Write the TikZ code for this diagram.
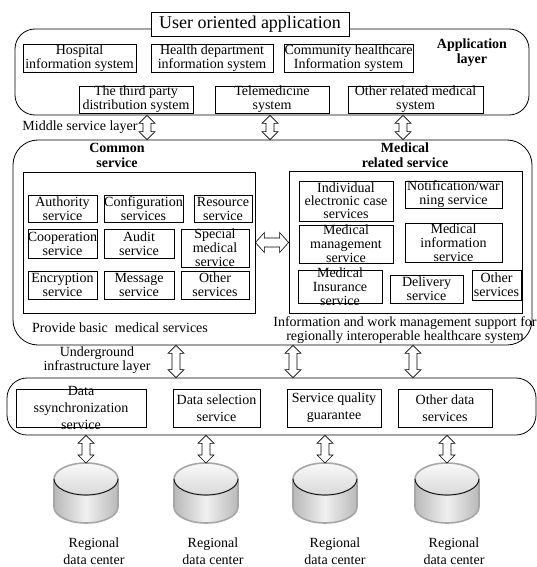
\documentclass[tikz,border=0pt]{standalone}
\usepackage{fontspec}
\setmainfont{Liberation Serif}
\usetikzlibrary{calc}

\begin{document}
\begin{tikzpicture}[x=1pt, y=-1pt,
 every node/.style={font=\fontsize{14}{14}\selectfont},
 layer/.style={draw, line width=0.8pt, rounded corners=20pt, inner sep=0pt},
 grp/.style={draw, line width=0.8pt, inner sep=0pt},
 svc/.style={draw, line width=0.7pt, inner sep=0pt},
 lb/.style={align=center, inner sep=0pt},
 hd/.style={align=center, inner sep=0pt, font=\fontsize{14}{15}\selectfont\bfseries},
 vdarrow/.style={draw, fill=white, line width=0.6pt, to path={-- ++(8,8) -- ++(-4,0) -- ($(\tikztotarget)+(4,-8)$) -- ++(4,0) -- (\tikztotarget) -- ++(-8,-8) -- ++(4,0) -- ($(\tikztostart)+(-4,8)$) -- ++(-4,0) -- cycle}},
 hdarrow/.style={draw, fill=white, line width=0.6pt, to path={-- ++(9,-10) -- ++(0,5.5) -- ($(\tikztotarget)+(-9,-4.5)$) -- ++(0,-5.5) -- (\tikztotarget) -- ++(-9,10) -- ++(0,-5.5) -- ($(\tikztostart)+(9,4.5)$) -- ++(0,5.5) -- cycle}}]
 \useasboundingbox (0,0) rectangle (537,567);

 % application layer
 \node[layer, minimum width=514, minimum height=86] (app) at (272,72) {};
 \node[draw, fill=white, line width=0.8pt, minimum width=198, minimum height=24, inner sep=0pt, font=\fontsize{18}{18}\selectfont] (user) at (250,24) {User oriented application};
 \node[hd] (applbl) at (472,53) {Application\\layer};
 \node[svc, minimum width=113, minimum height=28, label={[lb]center:Hospital\\information system}] (hosp) at (79.5,58) {};
 \node[svc, minimum width=122, minimum height=28, label={[lb]center:Health department\\information system}] (hdept) at (212,58) {};
 \node[svc, minimum width=129, minimum height=28, label={[lb]center:Community healthcare\\Information system}] (comm) at (348.5,58) {};
 \node[svc, minimum width=114, minimum height=27, label={[lb]center:The third party\\distribution system}] (third) at (136,99.5) {};
 \node[svc, minimum width=114, minimum height=27, label={[lb]center:Telemedicine\\system}] (tele) at (272,99.5) {};
 \node[svc, minimum width=135, minimum height=27, label={[lb]center:Other related medical\\system}] (othsys) at (415.5,99.5) {};
 \node[lb] (midlbl) at (80,127) {Middle service layer};

 % middle service layer
 \node[layer, rounded corners=25pt, minimum width=519, minimum height=205] (mid) at (272.5,242.5) {};
 \node[hd] (comlbl) at (117,155) {Common\\service};
 \node[hd] (medlbl) at (405,155) {Medical\\related service};
 \node[grp, minimum width=232, minimum height=141] (cbox) at (139,242.5) {};
 \node[grp, minimum width=233, minimum height=142] (mbox) at (405.5,242) {};

 \node[svc, minimum width=69, minimum height=27, label={[lb]center:Authority\\service}] (auth) at (62.5,208.5) {};
 \node[svc, minimum width=79, minimum height=27, label={[lb]center:Configuration\\services}] (conf) at (143.5,208.5) {};
 \node[svc, minimum width=58, minimum height=27, label={[lb]center:Resource\\service}] (res) at (223,208.5) {};
 \node[svc, minimum width=69, minimum height=29, label={[lb]center:Cooperation\\service}] (coop) at (62.5,243.5) {};
 \node[svc, minimum width=70, minimum height=29, label={[lb]center:Audit\\service}] (audit) at (139,243.5) {};
 \node[svc, minimum width=68, minimum height=38, label={[lb]center:Special\\medical\\service}] (spec) at (215,248) {};
 \node[svc, minimum width=69, minimum height=28, label={[lb]center:Encryption\\service}] (enc) at (62.5,285) {};
 \node[svc, minimum width=70, minimum height=28, label={[lb]center:Message\\service}] (msg) at (139,285) {};
 \node[svc, minimum width=68, minimum height=28, label={[lb]center:Other\\services}] (cother) at (215,285) {};
 \node[lb] (prov) at (120,328) {Provide basic\ \ medical services};

 \node[svc, minimum width=94, minimum height=40, label={[lb, font=\fontsize{14}{13}\selectfont]center:Individual\\electronic case\\services}] (indiv) at (346,201) {};
 \node[svc, minimum width=97, minimum height=27, label={[lb]center:Notification/war\\ning service}] (notif) at (453.5,194.5) {};
 \node[svc, minimum width=94, minimum height=38, label={[lb]center:Medical\\management\\service}] (mman) at (346,244) {};
 \node[svc, minimum width=97, minimum height=39, label={[lb]center:Medical\\information\\service}] (minfo) at (453.5,242.5) {};
 \node[svc, minimum width=84, minimum height=33, label={[lb]center:Medical\\Insurance\\service}] (mins) at (340,286.5) {};
 \node[svc, minimum width=73, minimum height=28, label={[lb]center:Delivery\\service}] (deliv) at (426.5,289) {};
 \node[svc, minimum width=49, minimum height=30, label={[lb]center:Other\\services}] (mother) at (496.5,285) {};
 \node[lb] (supp) at (405,330) {Information and work management support for\\regionally interoperable healthcare system};

 \path[hdarrow] (cbox.east) to (mbox.west |- cbox.east);

 % underground infrastructure layer
 \node[lb] (undlbl) at (97,360) {Underground\\infrastructure layer};
 \node[layer, minimum width=529, minimum height=57] (inf) at (271.5,406.5) {};
 \node[svc, minimum width=130, minimum height=38, label={[lb, font=\fontsize{14}{17}\selectfont]center:Data\\ssynchronization\\service}] (dsync) at (81,408) {};
 \node[svc, minimum width=87, minimum height=38, label={[lb, font=\fontsize{14}{17}\selectfont]center:Data selection\\service}] (dsel) at (216.5,408) {};
 \node[svc, minimum width=94, minimum height=38, label={[lb, font=\fontsize{14}{17}\selectfont]center:Service quality\\guarantee}] (sqg) at (334,408) {};
 \node[svc, minimum width=94, minimum height=38, label={[lb, font=\fontsize{14}{17}\selectfont]center:Other data\\services}] (odata) at (445,408) {};

 % layer arrows
 \foreach \x in {147,270,403}
  \path[vdarrow] (\x,0 |- app.south) to (\x,0 |- mid.north);
 \foreach \x in {176,293,413}
  \path[vdarrow] (\x,0 |- mid.south) to (\x,0 |- inf.north);

 % regional data centers
 \foreach \i/\x/\lx in {1/86/94, 2/206/213, 3/325/335, 4/447/454} {
  \coordinate (db\i) at (\x,463);
  \shade[left color=gray!55, right color=gray!55, middle color=gray!12] (\x-32,479) -- (\x-32,507) arc[start angle=180, end angle=0, x radius=32, y radius=16] -- (\x+32,479) -- cycle;
  \draw[gray!70, line width=1.6pt] (\x-32,479) -- (\x-32,507) arc[start angle=180, end angle=0, x radius=32, y radius=16] -- (\x+32,479);
  \shade[top color=gray!5, bottom color=gray!30, draw=gray!70, line width=1.6pt] (\x,479) ellipse[x radius=32, y radius=16];
  \draw[line width=0.7pt] (\x-32,479) arc[start angle=180, end angle=0, x radius=32, y radius=16];
  \path[vdarrow] (db\i |- inf.south) to (db\i);
  \node[lb, font=\fontsize{14}{17}\selectfont] (rdc\i) at (\lx,551) {Regional\\data center};
 }
\end{tikzpicture}
\end{document}
